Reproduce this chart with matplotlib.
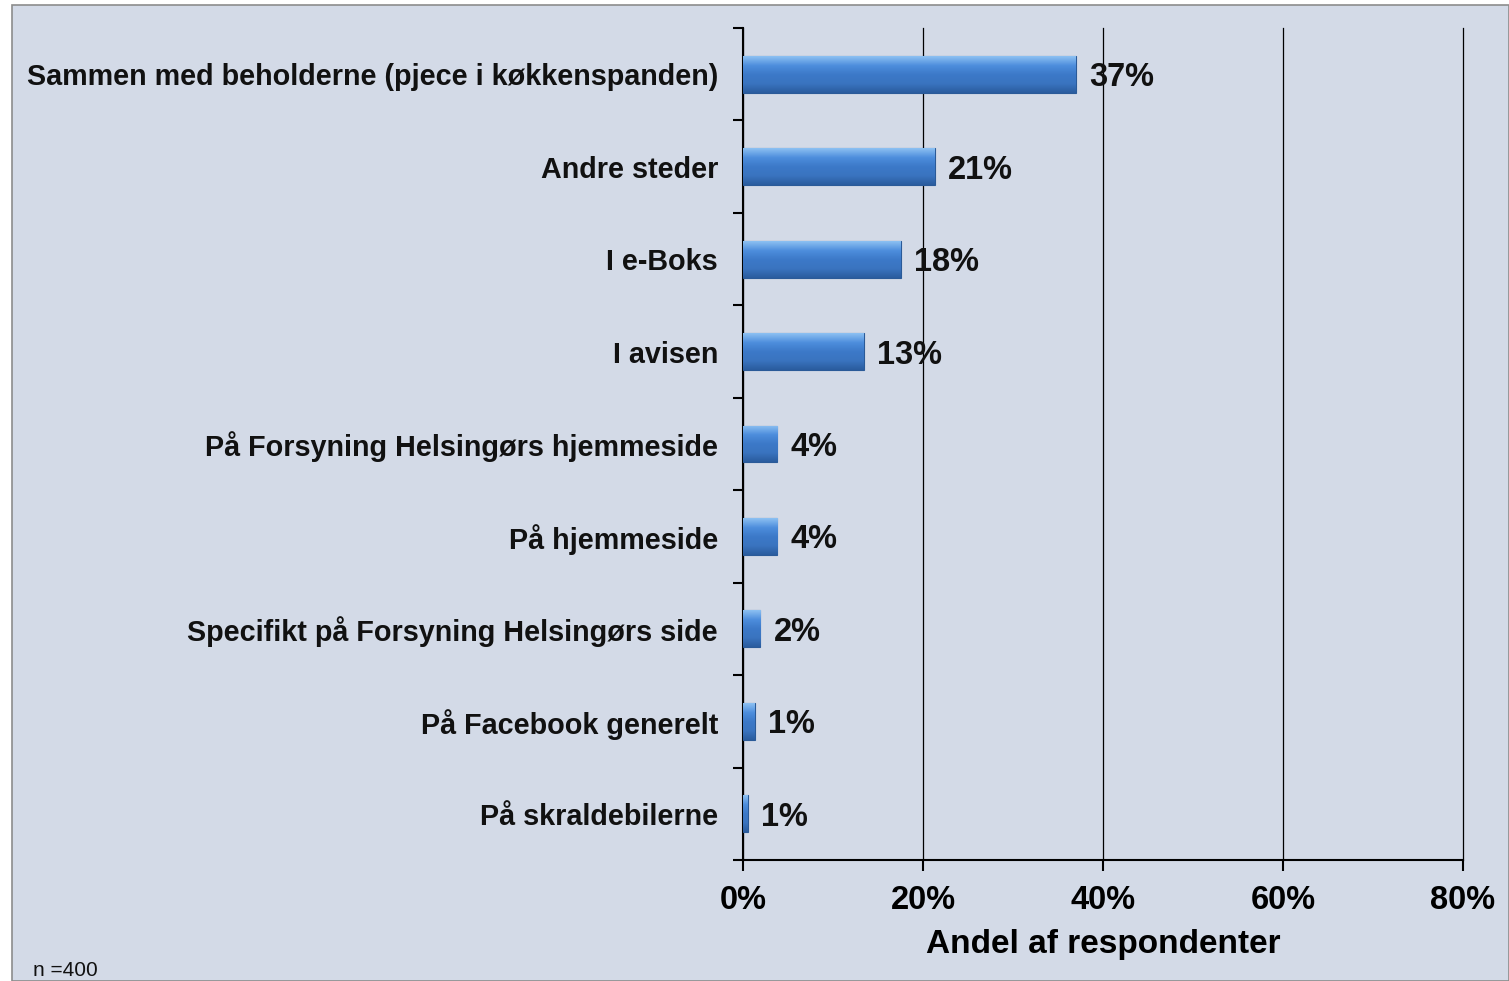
import matplotlib
matplotlib.use("Agg")
import matplotlib.pyplot as plt
import numpy as np
from matplotlib.patches import Rectangle
from matplotlib.colors import LinearSegmentedColormap

categories = [
    "Sammen med beholderne (pjece i køkkenspanden)",
    "Andre steder",
    "I e-Boks",
    "I avisen",
    "På Forsyning Helsingørs hjemmeside",
    "På hjemmeside",
    "Specifikt på Forsyning Helsingørs side",
    "På Facebook generelt",
    "På skraldebilerne",
]
values = [37.0, 21.3, 17.5, 13.4, 3.8, 3.8, 1.9, 1.3, 0.5]
value_labels = ["37%", "21%", "18%", "13%", "4%", "4%", "2%", "1%", "1%"]
xticks = [0, 20, 40, 60, 80]
xtick_labels = ["0%", "20%", "40%", "60%", "80%"]
xlabel = "Andel af respondenter"
note = "n =400"

plt.rcParams['font.family'] = ['Liberation Sans', 'DejaVu Sans']

W, H = 1509, 981
fig = plt.figure(figsize=(W / 100, H / 100), dpi=100, facecolor="white")
bg = "#D3DAE7"
frame = Rectangle((12 / W, 0), 1 - 12 / W, 1 - 5 / H, transform=fig.transFigure,
                  facecolor=bg, edgecolor="#8C8C8C", linewidth=1.2, zorder=-10)
fig.add_artist(frame)

ax = fig.add_axes([743 / W, 1 - 860 / H, 720 / W, 832 / H])
ax.set_facecolor("none")
ax.set_zorder(1)

n = len(categories)
y = np.arange(n)
bar_h = 0.40
bars = ax.barh(y, values, height=bar_h, color="#3D7CCB", edgecolor="#2A5A98", linewidth=0.8, zorder=3)

cmap = LinearSegmentedColormap.from_list("g", ["#8CC0F2", "#4E8EDD", "#3C79C8", "#3A74C0", "#2A5C9E"])
grad = np.linspace(0, 1, 64).reshape(-1, 1)
for b in bars:
    x0, y0 = b.get_x(), b.get_y()
    w, h = b.get_width(), b.get_height()
    im = ax.imshow(grad, cmap=cmap, aspect="auto", extent=(x0, x0 + w, y0 + h, y0),
                   zorder=3.5, interpolation="bicubic")
    im.set_clip_path(b)

for yi, v, lab in zip(y, values, value_labels):
    ax.text(v + 1.5, yi, lab, va="center_baseline", ha="left", fontsize=23.5, fontweight="bold",
            color="#111111", zorder=5)

ax.set_xlim(0, 80)
ax.set_ylim(n - 0.5, -0.5)
ax.set_xticks(xticks)
ax.set_xticklabels(xtick_labels, fontsize=23.5, fontweight="bold")
ax.set_yticks(y)
ax.set_yticklabels(categories, fontsize=20.7, fontweight="bold", color="#111111")
ax.set_yticks(np.arange(n + 1) - 0.5, minor=True)
ax.tick_params(axis="y", which="major", length=0, pad=18)
ax.tick_params(axis="y", which="minor", length=7, width=1.5, direction="out", color="black")
ax.tick_params(axis="x", which="major", length=8, width=1.5, direction="out", pad=10)

for s in ["top", "right"]:
    ax.spines[s].set_visible(False)
for s in ["left", "bottom"]:
    ax.spines[s].set_linewidth(1.5)
    ax.spines[s].set_color("black")

ax.grid(axis="x", color="black", linewidth=0.9, zorder=1)
ax.set_axisbelow(True)
for gl in ax.get_xgridlines():
    gl.set_clip_on(False)

ax.set_xlabel(xlabel, fontsize=24, fontweight="bold", labelpad=9)
fig.text(33 / W, 1 - 970 / H, note, fontsize=15, ha="left", va="center", color="#111111")

fig.savefig("out.png", dpi=100, facecolor="white")
